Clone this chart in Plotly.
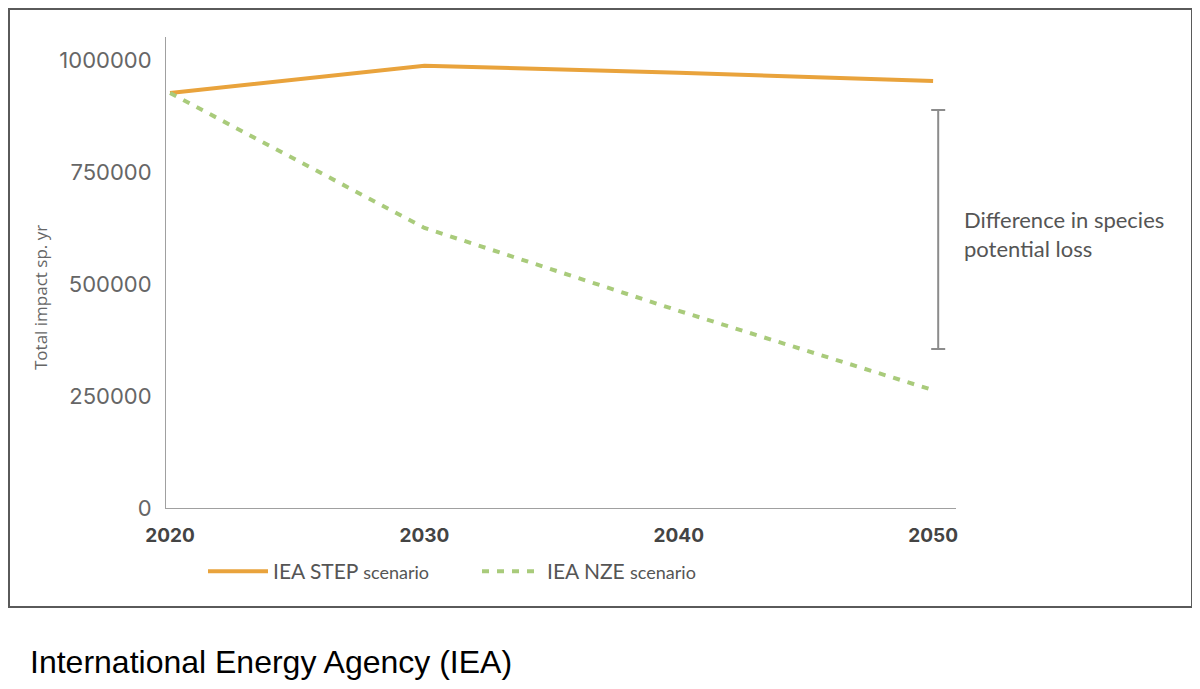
import plotly.graph_objects as go

years = [2020, 2030, 2040, 2050]
step_values = [926000, 987000, 971000, 953000]
nze_values = [926000, 625000, 440000, 263000]
x_tick_labels = ["2020", "2030", "2040", "2050"]
y_tick_values = [0, 250000, 500000, 750000, 1000000]
y_tick_labels = ["0", "250000", "500000", "750000", "1000000"]
gap_x = [2050.2]
gap_low = [355000]
gap_high = [888000]

# page offset (browser body margin)
OFF = 8
W, H = 1200 - 2 * OFF, 689 - 2 * OFF
# plot area in page pixels
PL, PR, PT, PB = 166, 956, 37, 508
L = PL - OFF
T = PT - OFF
R = W - (PR - OFF)
B = H - (PB - OFF)
pw = PR - PL
ph = PB - PT

def px_x(p):
    return (p - PL) / pw

def px_y(p):
    return (PB - p) / ph

fig = go.Figure()
fig.add_trace(go.Scatter(
    x=years, y=step_values, mode="lines",
    name="IEA STEP <span style='font-size:18px'>scenario</span>",
    line=dict(color="#E9A33C", width=4)))
fig.add_trace(go.Scatter(
    x=years, y=nze_values, mode="lines",
    name="IEA NZE <span style='font-size:18px'>scenario</span>",
    line=dict(color="#A9CB7B", width=4, dash="7px,8px")))
gap_mid = [(a + b) / 2 for a, b in zip(gap_low, gap_high)]
fig.add_trace(go.Scatter(
    x=gap_x, y=gap_mid, mode="markers", showlegend=False, hoverinfo="skip",
    marker=dict(size=1, color="rgba(0,0,0,0)"),
    error_y=dict(type="data", symmetric=False,
                 array=[h - m for h, m in zip(gap_high, gap_mid)],
                 arrayminus=[m - l for m, l in zip(gap_mid, gap_low)],
                 color="#8C8C8C", thickness=2, width=7)))

fig.update_layout(
    width=W, height=H,
    margin=dict(l=L, r=R, t=T, b=B),
    paper_bgcolor="white", plot_bgcolor="white",
    font=dict(family="Lato", color="#555"),
    xaxis=dict(range=[2019.84, 2050.9], tickvals=years, ticktext=x_tick_labels,
               showgrid=False, zeroline=False, showline=True, linecolor="#A0A0A0",
               linewidth=1, ticks="", ticklabelstandoff=10,
               tickfont=dict(family="Inter", size=19, color="#444", weight="bold")),
    yaxis=dict(range=[0, 1051000], tickvals=y_tick_values, ticktext=y_tick_labels,
               showgrid=False, zeroline=False, showline=True, linecolor="#A0A0A0",
               linewidth=1, ticks="", ticklabelstandoff=9,
               tickfont=dict(family="Inter", size=22, color="#666")),
    legend=dict(orientation="h", x=px_x(203), y=px_y(551), xanchor="left", yanchor="top",
                entrywidth=199, entrywidthmode="pixels", itemwidth=60,
                font=dict(family="Lato", size=21, color="#555"),
                bgcolor="rgba(0,0,0,0)"),
    showlegend=True,
)

fig.add_shape(type="rect", xref="paper", yref="paper",
              x0=px_x(9), x1=px_x(1192), y0=px_y(607), y1=px_y(9),
              line=dict(color="#5A5A5A", width=2), fillcolor="rgba(0,0,0,0)", layer="below")

fig.add_annotation(xref="paper", yref="paper", x=px_x(40), y=px_y(298),
                   xanchor="center", yanchor="middle", showarrow=False, textangle=-90,
                   text="Total impact sp. yr",
                   font=dict(family="Open Sans", size=17, color="#666"))

fig.add_annotation(xref="paper", yref="paper", x=px_x(962), y=px_y(234),
                   xanchor="left", yanchor="middle", align="left", showarrow=False,
                   text="Difference in species<br>potential loss",
                   font=dict(family="Lato", size=22, color="#555"))

fig.add_annotation(xref="paper", yref="paper", x=px_x(28), y=px_y(662),
                   xanchor="left", yanchor="middle", align="left", showarrow=False,
                   text="International Energy Agency (IEA)",
                   font=dict(family="Liberation Sans", size=32, color="#000"))

fig.write_html("out.html")
